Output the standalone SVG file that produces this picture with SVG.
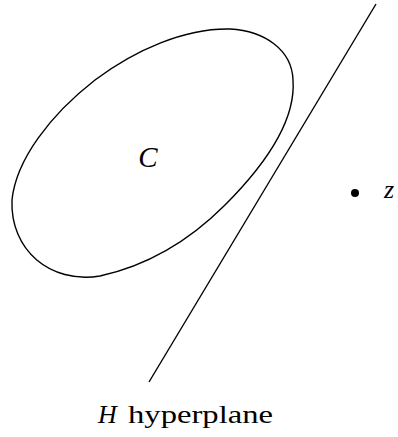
<svg xmlns="http://www.w3.org/2000/svg" width="398" height="437" viewBox="0 0 398 437">
<style>
.s{fill:none;stroke:#000;stroke-width:1.4}
.t{font-family:"Liberation Serif","DejaVu Serif",serif;fill:#000}
.i{font-style:italic}
</style>
<rect width="398" height="437" fill="#fff"/>
<g id="set-C">
<path class="s" d="M 293 80 C 296 120, 265 165, 225 205 C 190 240, 150 265, 100 276 C 50 284, 10 250, 12 200 C 16 160, 50 115, 95 80 C 135 50, 185 28, 230 29 C 265 31, 292 50, 293 80 Z"/>
<text class="t i" x="148" y="167" font-size="29" text-anchor="middle">C</text>
</g>
<g id="hyperplane">
<line class="s" x1="376" y1="4" x2="149" y2="382"/>
<text class="t" x="98" y="423" font-size="26"><tspan class="i">H</tspan> <tspan x="128" textLength="145" lengthAdjust="spacingAndGlyphs">hyperplane</tspan></text>
</g>
<g id="point-z">
<circle cx="355" cy="193" r="4" fill="#000"/>
<text class="t i" x="384" y="198" font-size="26">z</text>
</g>
</svg>
